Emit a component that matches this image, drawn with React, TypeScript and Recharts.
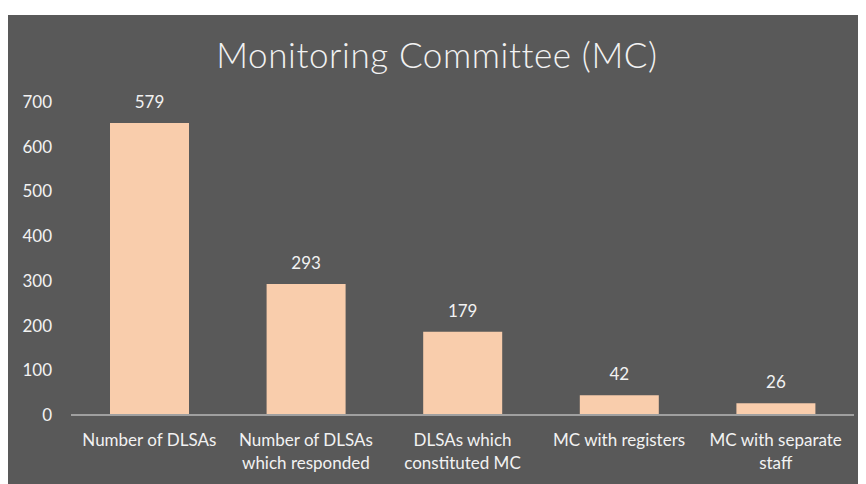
import React from "react";
import { BarChart, Bar, XAxis, YAxis, LabelList } from "recharts";

const categories = [
  "Number of DLSAs",
  "Number of DLSAs\nwhich responded",
  "DLSAs which\nconstituted MC",
  "MC with registers",
  "MC with separate\nstaff",
];
// bar heights as drawn on the y scale
const barHeights = [653, 293, 186, 44, 26];
// numbers printed above the bars
const barLabels = ["579", "293", "179", "42", "26"];
const yTicks = [0, 100, 200, 300, 400, 500, 600, 700];

const data = categories.map((name, i) => ({
  name,
  value: barHeights[i],
  label: barLabels[i],
}));

const FONT = "Lato, 'Open Sans', sans-serif";
const TEXT = "#f2f2f2";

function CategoryTick({ x, y, payload }: any) {
  const lines = String(payload.value).split("\n");
  return (
    <text x={x} y={y} textAnchor="middle" fill={TEXT} fontSize={17} fontFamily={FONT}>
      {lines.map((line, i) => (
        <tspan key={i} x={x} dy={i === 0 ? 23 : 23}>
          {line}
        </tspan>
      ))}
    </text>
  );
}

export default function App() {
  return (
    <div
      style={{
        position: "relative",
        width: 858,
        height: 469,
        marginTop: 7,
        background: "#595959",
        fontFamily: FONT,
      }}
    >
      <div
        style={{
          position: "absolute",
          top: 19,
          left: 0,
          width: 858,
          textAlign: "center",
          color: TEXT,
          fontSize: 35,
          lineHeight: "40px",
          fontWeight: 300,
          letterSpacing: 0.6,
        }}
      >
        Monitoring Committee (MC)
      </div>
      <BarChart
        width={858}
        height={469}
        data={data}
        margin={{ top: 87, right: 12, bottom: 39, left: 13 }}
        style={{ position: "absolute", top: 0, left: 0 }}
      >
        <XAxis
          dataKey="name"
          interval={0}
          tickLine={false}
          axisLine={{ stroke: "#a0a0a0", strokeWidth: 2 }}
          tick={<CategoryTick />}
        />
        <YAxis
          domain={[0, 700]}
          ticks={yTicks}
          width={50}
          axisLine={false}
          tickLine={false}
          tickSize={0}
          tickMargin={19}
          tick={{ fill: TEXT, fontSize: 17, fontFamily: FONT }}
        />
        <Bar dataKey="value" fill="#f9cdac" barSize={79} isAnimationActive={false}>
          <LabelList
            dataKey="label"
            position="top"
            offset={15}
            fill={TEXT}
            fontSize={17}
            fontFamily={FONT}
          />
        </Bar>
      </BarChart>
    </div>
  );
}
